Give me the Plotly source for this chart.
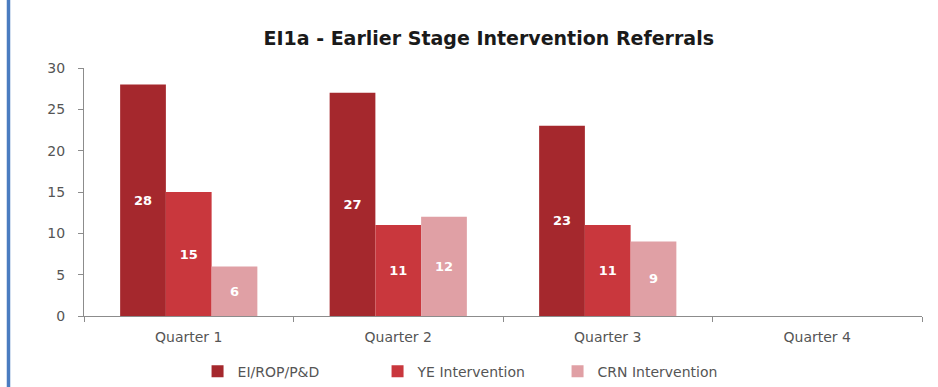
import plotly.graph_objects as go

# Referral counts per quarter
quarters = ["Quarter 1", "Quarter 2", "Quarter 3", "Quarter 4"]
ei_rop_pd = [28, 27, 23, None]
ye_intervention = [15, 11, 11, None]
crn_intervention = [6, 12, 9, None]

series_names = ["EI/ROP/P&D", "YE Intervention", "CRN Intervention"]
series_colors = ["#A5282D", "#C9373D", "#E0A0A5"]

y_ticks = [0, 5, 10, 15, 20, 25, 30]

fig = go.Figure()
for name, vals, col in zip(series_names, [ei_rop_pd, ye_intervention, crn_intervention], series_colors):
    fig.add_trace(go.Bar(
        x=quarters,
        y=vals,
        name=name,
        marker=dict(color=col, line=dict(width=0)),
        text=[str(v) if v is not None else "" for v in vals],
        textposition="inside",
        insidetextanchor="middle",
        textangle=0,
        textfont=dict(family="DejaVu Sans", size=13, color="white", weight="bold"),
    ))

fig.update_layout(
    width=938,
    height=387,
    margin=dict(l=84, r=16, t=68, b=71, autoexpand=False),
    paper_bgcolor="white",
    plot_bgcolor="white",
    barmode="group",
    bargap=0.345,
    bargroupgap=0,
    title=dict(
        text="<b>EI1a - Earlier Stage Intervention Referrals</b>",
        x=0.521, xanchor="center", y=0.9, yanchor="middle",
        font=dict(family="DejaVu Sans", size=19, color="#1a1a1a"),
    ),
    font=dict(family="DejaVu Sans", color="#555555"),
    legend=dict(
        orientation="h",
        x=0.4577, xanchor="center",
        y=-0.16, yanchor="top",
        font=dict(size=14, color="#555555"),
        entrywidth=135, entrywidthmode="pixels",
        itemwidth=30,
        traceorder="normal",
    ),
)

fig.update_xaxes(
    automargin=False,
    showline=True, linecolor="#8c8c8c", linewidth=1,
    ticks="outside", ticklen=5, tickcolor="#8c8c8c",
    tickson="boundaries",
    ticklabelstandoff=8,
    showgrid=False,
    tickfont=dict(size=14, color="#555555"),
)
fig.update_yaxes(
    automargin=False,
    range=[0, 30],
    tickvals=y_ticks,
    showline=True, linecolor="#8c8c8c", linewidth=1,
    ticks="outside", ticklen=5, tickcolor="#8c8c8c",
    ticklabelstandoff=10,
    showgrid=False, zeroline=False,
    tickfont=dict(size=14, color="#555555"),
)

# Blue rule down the left edge of the page
fig.add_shape(type="line", xref="paper", yref="paper",
              x0=-0.0901, x1=-0.0901, y0=-0.5, y1=1.5,
              line=dict(color="#4A7CC0", width=3.5))

fig.write_html("out.html")
